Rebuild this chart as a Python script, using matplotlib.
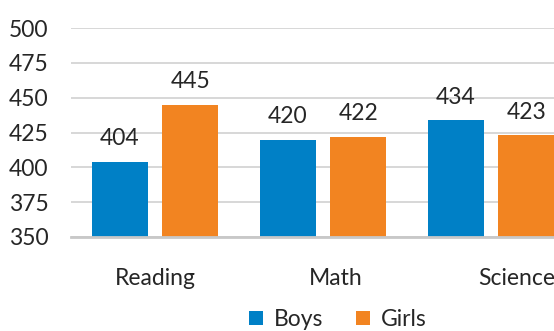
import matplotlib.pyplot as plt
import numpy as np

plt.rcParams['font.family'] = ['Lato', 'DejaVu Sans']

subjects = ["Reading", "Math", "Science"]
boys = [404, 420, 434]
girls = [445, 422, 423]

blue = "#0080C6"
orange = "#F28421"
fs = 16.5

fig = plt.figure(figsize=(5.54, 3.31), dpi=100)
ax = fig.add_axes([0.128, 0.284, 0.910, 0.631])

x = np.arange(len(subjects))
w = 0.333
b1 = ax.bar(x - 0.21, [v - 350 for v in boys], w, bottom=350, color=blue, label="Boys", zorder=3)
b2 = ax.bar(x + 0.21, [v - 350 for v in girls], w, bottom=350, color=orange, label="Girls", zorder=3)

# value labels above each bar
for bars, vals in ((b1, boys), (b2, girls)):
    for r, v in zip(bars, vals):
        ax.text(r.get_x() + r.get_width() / 2, v + 9, str(v), ha="center", va="bottom",
                fontsize=fs, color="#262626")

ax.set_xlim(-0.5, 2.5)
ax.set_ylim(350, 500)
ax.set_yticks(range(350, 501, 25))
# category labels sit on a slightly wider spacing than the bar groups
ax.set_xticks(x * 1.075)
ax.set_xticklabels(subjects)
ax.tick_params(axis="y", length=0, labelsize=fs, labelcolor="#262626", pad=16)
ax.tick_params(axis="x", length=0, labelsize=fs, labelcolor="#262626", pad=22)
ax.grid(axis="y", color="#D4D4D4", linewidth=1.3, zorder=0)

for s in ["top", "right", "left"]:
    ax.spines[s].set_visible(False)
ax.spines["bottom"].set_color("#C8C8C8")
ax.spines["bottom"].set_linewidth(2)
ax.spines["bottom"].set_zorder(4)

fig.legend(handles=[b1, b2], loc="center", bbox_to_anchor=(0.61, 0.035), ncol=2,
           frameon=False, fontsize=fs, handlelength=0.6, handleheight=0.6,
           handletextpad=0.5, columnspacing=1.4, labelcolor="#262626")

fig.savefig("out.png", dpi=100)
